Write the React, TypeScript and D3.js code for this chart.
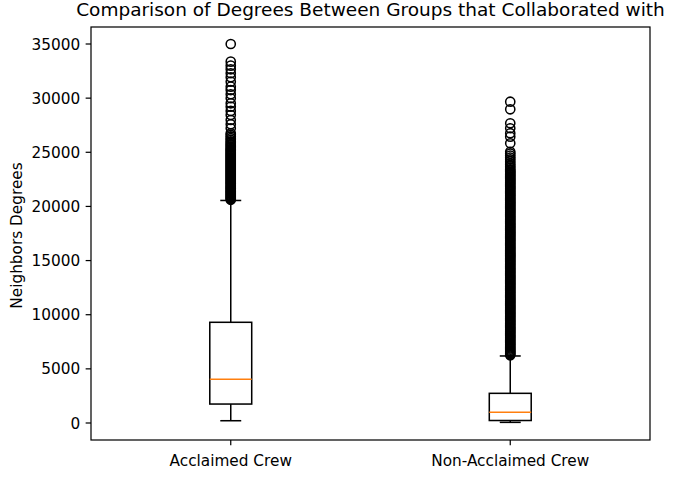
import React from "react";
import * as d3 from "d3";

const categories = ["Acclaimed Crew", "Non-Acclaimed Crew"];
const whiskerLow = [210, 60];
const q1 = [1750, 230];
const medians = [4050, 1000];
const q3 = [9300, 2740];
const whiskerHigh = [20550, 6190];

const acclaimedOutliers = [
  20610, 20700, 20780, 20880, 20960, 21050, 21150, 21230, 21330, 21410,
  21500, 21600, 21690, 21770, 21870, 21960, 22060, 22140, 22240, 22330,
  22420, 22510, 22600, 22700, 22790, 22870, 22970, 23060, 23160, 23250,
  23340, 23430, 23530, 23620, 23710, 23800, 23900, 23990, 24080, 24170,
  24270, 24360, 24450, 24540, 24640, 24730, 24820, 24920, 25010, 25110,
  25200, 25300, 25420, 25530, 25640, 25760, 25880, 26010, 26150, 26300,
  26460, 26620, 26755, 27220, 27590, 27980, 28445, 28815, 29210, 29525,
  29990, 30360, 30750, 31060, 31520, 31930, 32300, 32665, 33000, 33370,
  35000,
];

const nonAcclaimedOutliers = [
  6250, 6340, 6450, 6560, 6660, 6770, 6880, 6980, 7090, 7200,
  7300, 7410, 7520, 7620, 7730, 7840, 7940, 8050, 8160, 8260,
  8370, 8480, 8580, 8690, 8800, 8900, 9010, 9120, 9220, 9330,
  9440, 9540, 9650, 9760, 9860, 9970, 10080, 10180, 10290, 10400,
  10500, 10610, 10720, 10820, 10930, 11040, 11140, 11250, 11360, 11460,
  11570, 11680, 11780, 11890, 12000, 12100, 12210, 12320, 12420, 12530,
  12640, 12740, 12850, 12960, 13060, 13170, 13280, 13380, 13490, 13600,
  13700, 13810, 13920, 14020, 14130, 14240, 14340, 14450, 14560, 14660,
  14770, 14880, 14980, 15090, 15200, 15300, 15410, 15520, 15620, 15730,
  15840, 15940, 16050, 16160, 16260, 16370, 16480, 16580, 16690, 16800,
  16900, 17010, 17120, 17220, 17330, 17440, 17540, 17650, 17760, 17860,
  17970, 18080, 18180, 18290, 18400, 18500, 18610, 18720, 18820, 18930,
  19040, 19140, 19250, 19360, 19460, 19570, 19680, 19780, 19890, 20000,
  20100, 20210, 20320, 20420, 20530, 20640, 20740, 20850, 20960, 21060,
  21170, 21280, 21380, 21490, 21600, 21700, 21810, 21920, 22020, 22130,
  22240, 22340, 22450, 22560, 22660, 22770, 22880, 22980, 23090, 23200,
  23300, 23420, 23560, 23700, 23850, 24000, 24180, 24350, 24520, 24700,
  24880, 25050, 25830, 26440, 26760, 27220, 27680, 28970, 29670,
];

const outliers = [acclaimedOutliers, nonAcclaimedOutliers];
const yTicks = [0, 5000, 10000, 15000, 20000, 25000, 30000, 35000];

const W = 678;
const H = 486;
const left = 91;
const right = 650;
const top = 27;
const bottom = 440;
const FONT = "DejaVu Sans, sans-serif";
const PT = 1.53;

export default function App() {
  const x = d3.scaleLinear().domain([0.5, 2.5]).range([left, right]);
  const y = d3.scaleLinear().domain([-1570, 36570]).range([bottom, top]);
  const unit = x(1) - x(0);
  const boxW = 0.15 * unit;
  const capW = boxW / 2;
  const lw = 1 * PT;
  const spine = 0.8 * PT;
  const tickLen = 3.5 * PT;

  return (
    <>
      <style>{`body{margin:0}`}</style>
      <svg width={W} height={H} style={{ display: "block", background: "#fff" }} fontFamily={FONT}>
        <rect x={0} y={0} width={W} height={H} fill="#fff" />
        <text x={(left + right) / 2} y={15.7} textAnchor="middle" fontSize={18.5} fill="#000">
          Comparison of Degrees Between Groups that Collaborated with
        </text>
        {categories.map((c, i) => {
          const cx = x(i + 1);
          return (
            <g key={c}>
              <line x1={cx} x2={cx} y1={y(q1[i])} y2={y(whiskerLow[i])} stroke="#000" strokeWidth={lw} />
              <line x1={cx} x2={cx} y1={y(q3[i])} y2={y(whiskerHigh[i])} stroke="#000" strokeWidth={lw} />
              <line x1={cx - capW / 2} x2={cx + capW / 2} y1={y(whiskerLow[i])} y2={y(whiskerLow[i])} stroke="#000" strokeWidth={lw} />
              <line x1={cx - capW / 2} x2={cx + capW / 2} y1={y(whiskerHigh[i])} y2={y(whiskerHigh[i])} stroke="#000" strokeWidth={lw} />
              <rect x={cx - boxW / 2} y={y(q3[i])} width={boxW} height={y(q1[i]) - y(q3[i])} fill="none" stroke="#000" strokeWidth={lw} />
              <line x1={cx - boxW / 2} x2={cx + boxW / 2} y1={y(medians[i])} y2={y(medians[i])} stroke="#ff7f0e" strokeWidth={lw} />
              {outliers[i].map((v, j) => (
                <circle key={j} cx={cx} cy={y(v)} r={3 * PT} fill="none" stroke="#000" strokeWidth={lw} />
              ))}
            </g>
          );
        })}
        <rect x={left} y={top} width={right - left} height={bottom - top} fill="none" stroke="#000" strokeWidth={spine} />
        {yTicks.map((t) => (
          <g key={t}>
            <line x1={left} x2={left - tickLen} y1={y(t)} y2={y(t)} stroke="#000" strokeWidth={spine} />
            <text x={left - 2 * tickLen} y={y(t)} dy="0.36em" textAnchor="end" fontSize={15.3} fill="#000">
              {t}
            </text>
          </g>
        ))}
        {categories.map((c, i) => (
          <g key={c}>
            <line x1={x(i + 1)} x2={x(i + 1)} y1={bottom} y2={bottom + tickLen} stroke="#000" strokeWidth={spine} />
            <text x={x(i + 1)} y={465.6} textAnchor="middle" fontSize={15.3} fill="#000">
              {c}
            </text>
          </g>
        ))}
        <text transform={`translate(22.3,${(top + bottom) / 2 + 2}) rotate(-90)`} textAnchor="middle" fontSize={15.3} fill="#000">
          Neighbors Degrees
        </text>
      </svg>
    </>
  );
}
